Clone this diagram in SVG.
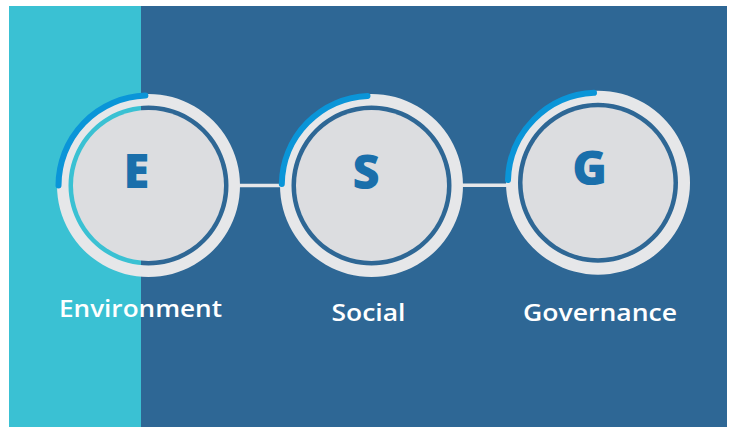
<svg xmlns="http://www.w3.org/2000/svg" width="729" height="427" viewBox="0 0 729 427">
<style>
.ring{fill:#e6e7e9}
.disc{fill:#dcdde0}
.arc{fill:none;stroke:#0a95d8;stroke-width:6;stroke-linecap:round}
.letter{font-family:"Open Sans","Liberation Sans",sans-serif;font-weight:800;font-size:47px;fill:#1a6fab;text-anchor:middle}
.label{font-family:"Open Sans","Liberation Sans",sans-serif;font-weight:600;font-size:24px;fill:#ffffff}
.conn{stroke:#e6e7e9;stroke-width:3.5}
</style>
<rect x="0" y="0" width="729" height="427" fill="#ffffff"/>
<rect x="9" y="6" width="132" height="421" fill="#3ac1d3"/>
<rect x="141" y="6" width="586" height="421" fill="#2e6795"/>
<g id="connectors">
<line class="conn" x1="238" y1="185.5" x2="284" y2="185.5"/>
<line class="conn" x1="460" y1="185.3" x2="508" y2="185.3"/>
</g>
<g id="node-e">
<path class="ring" fill-rule="evenodd" d="M148.5,94a91.5,91.5 0 1,0 0.01,0zM148.5,105.5a80,80 0 1,1 -0.01,0z"/>
<circle class="disc" cx="148.5" cy="185.5" r="75.5"/>
<path class="arc" d="M58.5,185.5A90,90 0 0,1 145.4,95.6"/>
<text class="letter" x="136.5" y="188">E</text>
<text class="label" x="59" y="317" textLength="163" lengthAdjust="spacingAndGlyphs">Environment</text>
</g>
<g id="node-s">
<path class="ring" fill-rule="evenodd" d="M371.5,94a91.5,91.5 0 1,0 0.01,0zM371.5,105.5a80,80 0 1,1 -0.01,0z"/>
<circle class="disc" cx="371.5" cy="185.5" r="75.5"/>
<path class="arc" d="M281.8,184A89.7,89.7 0 0,1 367.5,95.9"/>
<text class="letter" x="366" y="188.5">S</text>
<text class="label" x="331.5" y="320.5" textLength="74" lengthAdjust="spacingAndGlyphs">Social</text>
</g>
<g id="node-g">
<path class="ring" fill-rule="evenodd" d="M598,90.7a92,92 0 1,0 0.01,0zM598,102.7a80,80 0 1,1 -0.01,0z"/>
<circle class="disc" cx="598" cy="182.7" r="75.5"/>
<path class="arc" d="M508,180A90,90 0 0,1 594,92.8"/>
<text class="letter" x="589.7" y="184.5">G</text>
<text class="label" x="523" y="320.5" textLength="154" lengthAdjust="spacingAndGlyphs">Governance</text>
</g>
</svg>
